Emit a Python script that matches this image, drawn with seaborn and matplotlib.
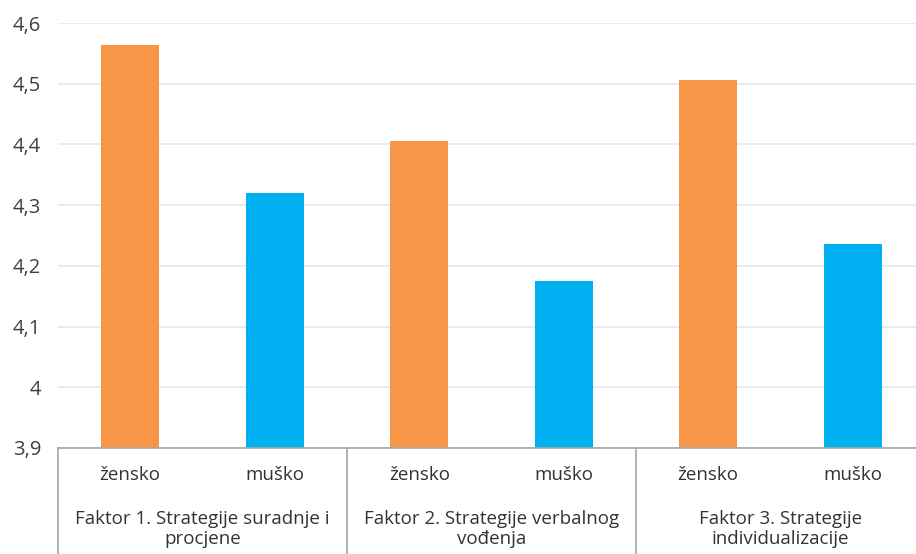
import matplotlib
matplotlib.use("Agg")
import matplotlib.pyplot as plt
import matplotlib.transforms as mtransforms
import seaborn as sns
import pandas as pd

factors = ["Faktor 1. Strategije suradnje i\nprocjene",
           "Faktor 2. Strategije verbalnog\nvođenja",
           "Faktor 3. Strategije\nindividualizacije"]
genders = ["žensko", "muško"]
zensko = [4.564, 4.406, 4.506]
musko = [4.320, 4.175, 4.236]
yticks = [3.9, 4.0, 4.1, 4.2, 4.3, 4.4, 4.5, 4.6]
ytick_labels = ["3,9", "4", "4,1", "4,2", "4,3", "4,4", "4,5", "4,6"]

rows = []
for i, f in enumerate(factors):
    rows.append({"slot": f"{i}-{genders[0]}", "spol": genders[0], "value": zensko[i]})
    rows.append({"slot": f"{i}-{genders[1]}", "spol": genders[1], "value": musko[i]})
df = pd.DataFrame(rows)

sns.set_theme(style="white")
plt.rcParams['font.family'] = ['Open Sans', 'DejaVu Sans']

fig = plt.figure(figsize=(9.16, 5.54), dpi=100)
ax = fig.add_axes([58/916, 1-448/554, 867/916, (448-23)/554])

sns.barplot(data=df, x="slot", y="value", hue="spol", dodge=False, width=0.4,
            palette={"žensko": "#F79646", "muško": "#00B0F0"}, ax=ax,
            legend=False, edgecolor="none", saturation=1)

ax.set_ylim(3.9, 4.6)
ax.set_xlim(-0.5, 5.5)
ax.set_yticks(yticks)
ax.set_yticklabels(ytick_labels, fontsize=14.5, color="#404040")
ax.tick_params(axis="y", length=0, pad=12)
ax.yaxis.grid(True, color="#E1E8F2", linewidth=1.2)
ax.set_axisbelow(True)
for s in ["top", "right", "left"]:
    ax.spines[s].set_visible(False)
ax.spines["bottom"].set_color("#A6A6A6")
ax.spines["bottom"].set_linewidth(1.2)

ax.set_xticks(range(6))
ax.set_xticklabels(genders * 3, fontsize=13.5, color="#333333")
ax.tick_params(axis="x", length=0, pad=13)
ax.set_xlabel("")
ax.set_ylabel("")

trans = mtransforms.blended_transform_factory(ax.transData, ax.transAxes)
for i, f in enumerate(factors):
    ax.text(2*i + 0.5, -0.145, f, transform=trans, ha="center", va="top",
            fontsize=13.5, color="#333333", linespacing=1.15)
for xsep in [-0.5, 1.5, 3.5, 5.5]:
    ax.plot([xsep, xsep], [0, -0.3], transform=trans, color="#A6A6A6",
            linewidth=1.2, clip_on=False)

fig.savefig("out.png", dpi=100)
